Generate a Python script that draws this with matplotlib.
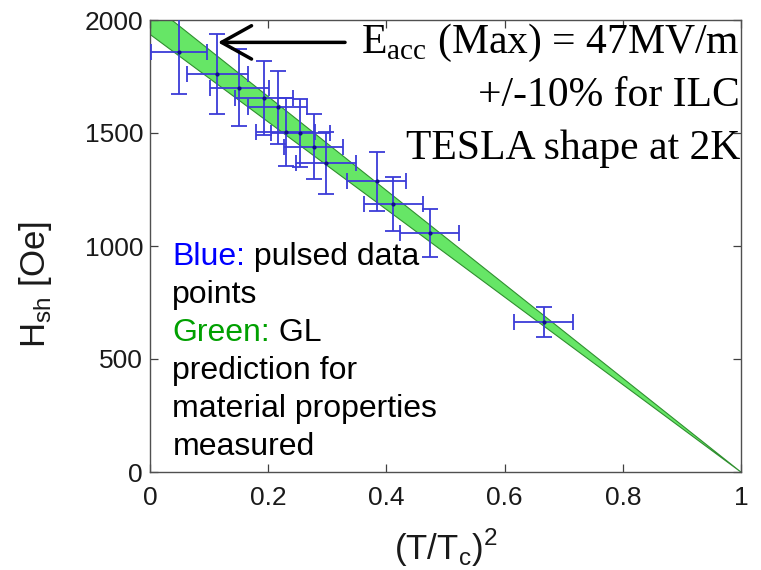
import matplotlib
matplotlib.use("Agg")
import matplotlib.pyplot as plt

plt.rcParams['mathtext.fontset'] = 'custom'
plt.rcParams['mathtext.rm'] = 'Liberation Serif'
plt.rcParams['mathtext.sf'] = 'Liberation Sans'
plt.rcParams['font.family'] = ['Liberation Sans', 'DejaVu Sans']

# ---- data ----
t2 = [0.049, 0.114, 0.151, 0.193, 0.216, 0.230, 0.254, 0.277, 0.298, 0.384, 0.412, 0.473, 0.666]
hsh = [1860, 1761, 1701, 1654, 1614, 1505, 1500, 1440, 1366, 1286, 1185, 1056, 665]
hsh_err = [186, 176, 170, 165, 161, 150, 150, 144, 137, 129, 119, 106, 67]
t2_err = [0.048, 0.051, 0.050, 0.049, 0.050, 0.050, 0.050, 0.050, 0.051, 0.050, 0.050, 0.050, 0.050]

band_x = [0.0, 1.0]
band_upper = [2077, 0]
band_lower = [1937, 0]

xticks = [0, 0.2, 0.4, 0.6, 0.8, 1]
xticklabels = ['0', '0.2', '0.4', '0.6', '0.8', '1']
yticks = [0, 500, 1000, 1500, 2000]
yticklabels = ['0', '500', '1000', '1500', '2000']

arrow_tip = (0.115, 1901)
arrow_tail = (0.33, 1901)

note_lines = [r'E$_{\mathrm{acc}}$ (Max) = 47MV/m', '+/-10% for ILC', 'TESLA shape at 2K']

# ---- figure ----
fig = plt.figure(figsize=(7.61, 5.70), dpi=100)
ax = fig.add_axes([150/761, 1 - 472/570, 591/761, 452/570])

ax.fill_between(band_x, band_lower, band_upper, color='#66e666', edgecolor='#2f8f2f',
                linewidth=0.8, zorder=1)

ax.errorbar(t2, hsh, yerr=hsh_err, xerr=t2_err, fmt='.', color='#10108a', markersize=4,
            ecolor='#3c3cd8', elinewidth=1.3, capsize=6, capthick=1.3, zorder=3)

ax.annotate('', xy=arrow_tip, xytext=arrow_tail,
            arrowprops=dict(arrowstyle='->,head_length=0.9,head_width=0.5', lw=2.5,
                            color='black', mutation_scale=24, shrinkA=0, shrinkB=0),
            zorder=5)

ax.set_xlim(0, 1)
ax.set_ylim(0, 2000)
ax.set_xticks(xticks)
ax.set_xticklabels(xticklabels)
ax.set_yticks(yticks)
ax.set_yticklabels(yticklabels)
ax.tick_params(direction='in', top=True, right=True, length=6, width=0.9,
               labelsize=19, colors='#404040', labelcolor='#1a1a1a')
ax.tick_params(axis='x', pad=10)
ax.tick_params(axis='y', pad=5)
for s in ax.spines.values():
    s.set_color('#505050')
    s.set_linewidth(1.0)

ax.set_xlabel(r'(T/T$_\mathsf{c}$)$^\mathsf{2}$', fontsize=25, va='center', color='#1a1a1a')
ax.xaxis.set_label_coords(0.5, -0.168)
ax.set_ylabel(r'H$_\mathsf{sh}$ [Oe]', fontsize=25, va='center', color='#1a1a1a')
ax.yaxis.set_label_coords(-0.193, 0.414)

# serif annotation at the top right
for i, line in enumerate(note_lines):
    ax.text(0.998, 0.949 - i * 0.117, line, transform=ax.transAxes, ha='right', va='center',
            fontsize=30, family='Liberation Serif', color='black', zorder=6)

# coloured explanation text
fs = 23
x0 = 0.038
y0 = 0.458
dy = 0.084
t_blue = ax.text(x0, y0, 'Blue:', transform=ax.transAxes, color='#0000ff', fontsize=fs,
                 va='baseline', ha='left', zorder=6)
ax.annotate(' pulsed data', xy=(1, 0), xycoords=t_blue, va='bottom', ha='left',
            fontsize=fs, color='black', zorder=6)
ax.text(x0, y0 - dy, 'points', transform=ax.transAxes, color='black', fontsize=fs,
        va='baseline', ha='left', zorder=6)
t_green = ax.text(x0, y0 - 2 * dy, 'Green:', transform=ax.transAxes, color='#00a000',
                  fontsize=fs, va='baseline', ha='left', zorder=6)
ax.annotate(' GL', xy=(1, 0), xycoords=t_green, va='bottom', ha='left',
            fontsize=fs, color='black', zorder=6)
for k, line in enumerate(['prediction for', 'material properties', 'measured']):
    ax.text(x0, y0 - (3 + k) * dy, line, transform=ax.transAxes, color='black', fontsize=fs,
            va='baseline', ha='left', zorder=6)

fig.savefig('out.png', dpi=100)
